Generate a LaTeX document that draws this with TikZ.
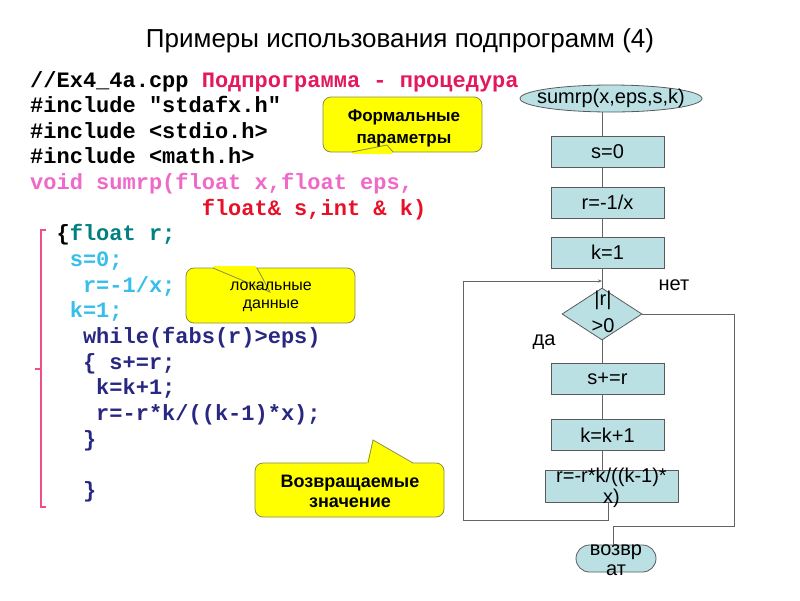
\documentclass[tikz,border=0pt]{standalone}
\usepackage{fontspec}
\setmainfont{Liberation Sans}
\newfontfamily\codefont{Liberation Mono}
\usetikzlibrary{shapes.geometric,arrows.meta}
\definecolor{crim}{RGB}{228,24,92}
\definecolor{pinkc}{RGB}{238,105,200}
\definecolor{redc}{RGB}{232,16,40}
\definecolor{tealc}{RGB}{0,128,128}
\definecolor{lblue}{RGB}{55,190,235}
\definecolor{navyc}{RGB}{40,40,130}
\definecolor{boxfill}{RGB}{186,224,228}
\definecolor{boxline}{RGB}{90,90,90}
\definecolor{conline}{RGB}{100,100,100}
\definecolor{calbord}{RGB}{140,140,70}
\definecolor{brpink}{RGB}{236,80,135}
\definecolor{calfill}{RGB}{255,255,0}
\begin{document}
\begin{tikzpicture}[x=1pt,y=-1pt,
  code/.style={font=\codefont\bfseries\fontsize{22}{22}\selectfont, anchor=base west, inner sep=0pt},
  fc/.style={draw=boxline, fill=boxfill, line width=0.8pt},
  proc/.style={fc, rectangle, minimum width=113pt, minimum height=31pt, inner sep=0pt, font=\fontsize{20}{21}\selectfont},
  fctext/.style={font=\fontsize{20}{20.5}\selectfont, align=center, inner sep=0pt},
  conn/.style={draw=conline, line width=0.8pt},
  callout/.style={rectangle, rounded corners=8pt, fill=calfill, draw=calbord, line width=0.8pt, inner sep=0pt},
  caltext/.style={anchor=base, inner sep=0pt},
  notch/.style={draw=calbord, line width=0.8pt}
]
\useasboundingbox (0,0) rectangle (800,600);

% title
\node[font=\fontsize{26}{26}\selectfont, anchor=base, inner sep=0pt] (title) at (400,47) {Примеры использования подпрограмм (4)};

% code lines
\node[code] (l0) at (30,87) {//Ex4\_4a.cpp \textcolor{crim}{Подпрограмма - процедура}};
\node[code] (l1) at (30,112.65) {\#include "stdafx.h"};
\node[code] (l2) at (30,138.3) {\#include <stdio.h>};
\node[code] (l3) at (30,163.95) {\#include <math.h>};
\node[code, text=pinkc] (l4) at (30,189.6) {void sumrp(float x,float eps,};
\node[code, text=redc] (l5) at (201.6,215.25) {float\& s,int \& k)};
\node[code] (l6) at (56.4,240.9) {\{\textcolor{tealc}{float r;}};
\node[code, text=lblue] (l7) at (69.6,266.55) {s=0;};
\node[code, text=lblue] (l8) at (82.8,292.2) {r=-1/x;};
\node[code, text=lblue] (l9) at (69.6,317.85) {k=1;};
\node[code, text=navyc] (l10) at (82.8,343.5) {while(fabs(r)>eps)};
\node[code, text=navyc] (l11) at (82.8,369.15) {\{ s+=r;};
\node[code, text=navyc] (l12) at (96,394.8) {k=k+1;};
\node[code, text=navyc] (l13) at (96,420.45) {r=-r*k/((k-1)*x);};
\node[code, text=navyc] (l14) at (82.8,446.1) {\}};
\node[code, text=navyc] (l16) at (82.8,497.4) {\}};

% bracket
\draw[brpink, line width=1.3pt] (46,230) -- (41,230) -- (41,507) -- (46,507);
\draw[brpink, line width=1.3pt] (41,369) -- (35,369);

% callouts
\node[callout, minimum width=159pt, minimum height=55pt] (cf) at (402.5,124.5) {};
\fill[calfill] (353,150.2) rectangle (392,153.8);
\draw[notch] (352,152) -- (387,145) -- (393,152);
\node[caltext, font=\bfseries\fontsize{17}{17}\selectfont] (cf1) at (404,121) {Формальные};
\node[caltext, font=\bfseries\fontsize{17}{17}\selectfont] (cf2) at (404,143) {параметры};

\node[callout, minimum width=169pt, minimum height=55pt] (cl) at (270.5,295.5) {};
\fill[calfill] (214,266.2) rectangle (256,269.8);
\draw[notch] (213,268) -- (270,292) -- (257,268);
\node[caltext, font=\fontsize{16}{16}\selectfont] (cl1) at (271,290) {локальные};
\node[caltext, font=\fontsize{16}{16}\selectfont] (cl2) at (271,308) {данные};

\node[callout, minimum width=189pt, minimum height=54pt] (cv) at (349.5,490) {};
\fill[calfill] (366.5,464.8) -- (373,440) -- (415,464.8) -- cycle;
\draw[notch] (368,463) -- (373,440) -- (413,463);
\node[caltext, font=\bfseries\fontsize{18}{18}\selectfont] (cv1) at (350,487) {Возвращаемые};
\node[caltext, font=\bfseries\fontsize{18}{18}\selectfont] (cv2) at (350,507) {значение};

% flowchart
\node[fc, ellipse, minimum width=182pt, minimum height=27pt, inner sep=0pt] (ell) at (611,98.5) {};
\node[fctext] (ellt) at (611,98.5) {sumrp(x,eps,s,k)};
\node[proc] (b1) at (607.5,151.5) {s=0};
\node[proc] (b2) at (607.5,202.5) {r=-1/x};
\node[proc] (b3) at (607.5,252.5) {k=1};
\node[fc, diamond, minimum width=80pt, minimum height=52pt, inner sep=0pt] (dia) at (602,314) {};
\node[fctext, font=\fontsize{20}{27}\selectfont] (diat) at (603,312) {|r|\\>0};
\node[proc] (b4) at (607.5,378.5) {s+=r};
\node[proc] (b5) at (607.5,435) {k=k+1};
\node[fc, rectangle, minimum width=133pt, minimum height=32pt, inner sep=0pt] (b6) at (611.5,486) {};
\node[fctext] (b6t) at (611.5,488) {r=-r*k/((k-1)*\\x)};
\node[fc, rectangle, rounded corners=13.5pt, minimum width=80pt, minimum height=27pt, inner sep=0pt] (ret) at (616,558.5) {};
\node[fctext] (rett) at (616,560) {возвр\\ат};
\node[fctext, anchor=center] (net) at (674,285) {нет};
\node[fctext, anchor=center] (da) at (544,342) {да};

% connectors
\coordinate (lx) at (602,0);
\coordinate (lb) at (608,0);
\coordinate (rx) at (613,0);
\coordinate (loopc) at (463,520);
\coordinate (jn) at (602,281);
\coordinate (rc) at (734,526);
\draw[conn] (ell.south -| lx) -- (b1.north -| lx);
\draw[conn] (b1.south -| lx) -- (b2.north -| lx);
\draw[conn] (b2.south -| lx) -- (b3.north -| lx);
\draw[conn] (b3.south -| lx) -- (dia.north);
\draw[conn] (dia.south) -- (b4.north -| lx);
\draw[conn] (b4.south -| lx) -- (b5.north -| lx);
\draw[conn] (b5.south -| lx) -- (b6.north -| lx);
\draw[conn, -{Stealth[length=4pt,width=3pt]}] (b6.south -| lb) |- (loopc) |- (jn);
\draw[conn] (dia.east) -| (rc) -| (ret.north -| rx);
\end{tikzpicture}
\end{document}
